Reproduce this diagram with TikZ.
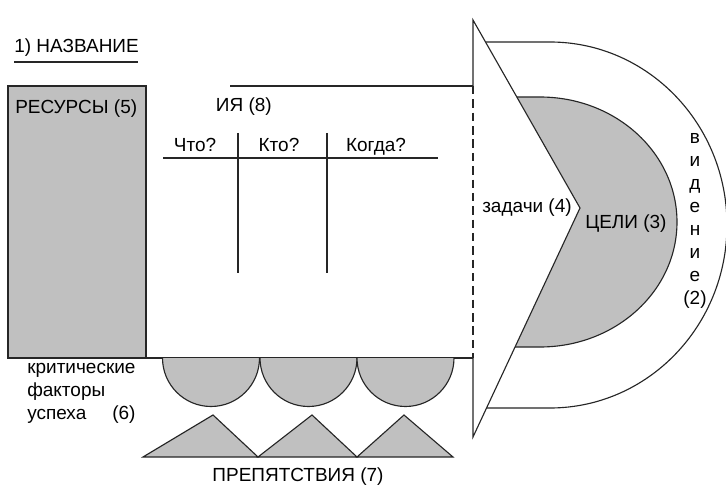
\documentclass[tikz,border=0pt]{standalone}
\usepackage{fontspec}
\setmainfont{Liberation Sans}
\definecolor{shade}{RGB}{192,192,192}
\tikzset{
  outline/.style={draw=black!85, line width=0.8pt},
  shaded/.style={outline, fill=shade},
  lbl/.style={font=\fontsize{13.5}{16.4}\selectfont, inner sep=0pt},
}

\begin{document}
\begin{tikzpicture}[x=0.025cm, y=-0.025cm]
\useasboundingbox (0,0) rectangle (726,486);

% Draw the title
  \node[lbl, anchor=base west] (title) at (14,53) {1) НАЗВАНИЕ};
  \draw[outline] (14,62) -- (138,62);

% Draw the vision and the goals
  \draw[outline, fill=white] (473,42) -- (550,42)
     arc[start angle=-90, end angle=90, x radius=177, y radius=183] -- (473,408);
  \draw[shaded] (473,97) -- (540,97)
     arc[start angle=-90, end angle=90, x radius=137, y radius=125] -- (473,347);

% Draw the tasks arrow
  \fill[white] (473,20) -- (580,208) -- (473,437) -- cycle;
  \draw[outline] (473,86) -- (473,20) -- (580,208) -- (473,437) -- (473,358);
  \draw[outline, dash pattern=on 6pt off 3.5pt] (473,86) -- (473,358);

% Draw the resources and the actions
  \draw[shaded] (8,86) rectangle (146,358);
  \draw[outline] (230,86) -- (473,86);
  \draw[outline] (146,358) -- (473,358);

% Draw the table
  \draw[outline] (163,158) -- (438,158);
  \draw[outline] (238,133) -- (238,273);
  \draw[outline] (327,133) -- (327,273);

% Draw the critical factors and the obstacles
  \foreach \cx in {211,308.5,405.5}
    \draw[shaded] (\cx-48.5,358) arc[start angle=180, end angle=0, radius=48.5];
  \foreach \l/\t/\r in {143/213/258, 258/312/357, 357/404/453}
    \draw[shaded] (\l,457) -- (\t,415) -- (\r,457) -- cycle;

% Labels
  \node[lbl, anchor=base west] (res) at (15,114) {РЕСУРСЫ (5)};
  \node[lbl, anchor=base east] (act) at (272,112) {ИЯ (8)};
  \node[lbl, anchor=base] (what) at (195,152) {Что?};
  \node[lbl, anchor=base] (who) at (279,152) {Кто?};
  \node[lbl, anchor=base] (when) at (376,152) {Когда?};
  \node[lbl, anchor=base west] (tasks) at (482,213) {задачи (4)};
  \node[lbl, anchor=base west] (goals) at (585,229) {ЦЕЛИ (3)};
  \node[lbl, align=center] (vision) at (695,221) {в\\и\\д\\е\\н\\и\\е\\(2)};
  \node[lbl, align=left, anchor=north west] (crit) at (27,363)
     {критические\\факторы\\успеха\hspace{6.5mm}(6)};
  \node[lbl, anchor=base] (obst) at (298,481) {ПРЕПЯТСТВИЯ (7)};

\end{tikzpicture}
\end{document}
